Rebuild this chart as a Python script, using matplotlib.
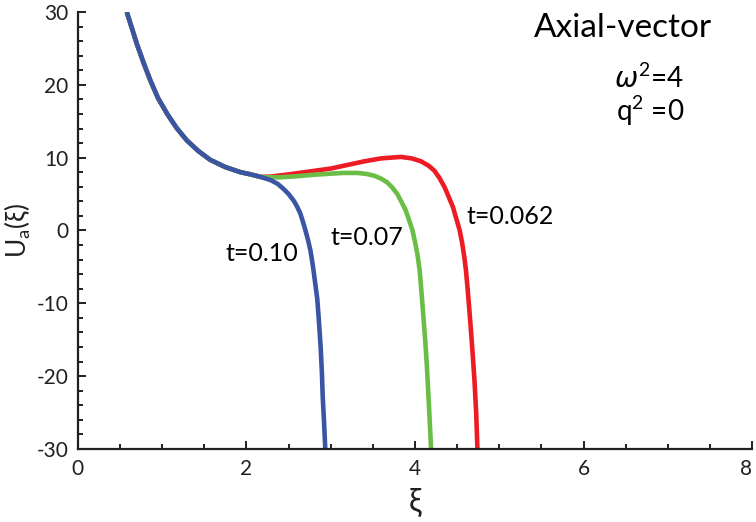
import matplotlib
matplotlib.use('Agg')
import matplotlib.pyplot as plt
from matplotlib.ticker import MultipleLocator

plt.rcParams['font.family'] = ['Lato', 'DejaVu Sans']
plt.rcParams['mathtext.fontset'] = 'custom'
plt.rcParams['mathtext.rm'] = 'Lato'
plt.rcParams['mathtext.it'] = 'DejaVu Sans:italic'
plt.rcParams['axes.unicode_minus'] = False

# curves (xi, U_a)
shared_x = [0.58, 0.64, 0.70, 0.78, 0.86, 0.95, 1.06, 1.17, 1.29, 1.43, 1.57, 1.75, 1.93, 2.05, 2.17]
shared_y = [30.0, 27.8, 25.6, 23.0, 20.6, 18.2, 16.0, 14.1, 12.4, 10.9, 9.7, 8.7, 8.0, 7.7, 7.35]

blue_x = shared_x + [2.29, 2.37, 2.44, 2.50, 2.56, 2.60, 2.64, 2.67, 2.70, 2.73, 2.76, 2.79, 2.815,
                     2.84, 2.86, 2.88, 2.895, 2.905, 2.92, 2.935]
blue_y = shared_y + [6.9, 6.4, 5.7, 5.0, 4.1, 3.3, 2.3, 1.2, 0.0, -1.3, -2.8, -5.0, -7.2,
                     -9.4, -12.5, -16.0, -19.5, -22.9, -26.2, -30.0]

green_x = shared_x + [2.29, 2.40, 2.60, 2.80, 3.00, 3.15, 3.32, 3.43, 3.52, 3.60, 3.67, 3.73, 3.79,
                      3.84, 3.89, 3.93, 3.97, 4.00, 4.03, 4.055, 4.08, 4.10, 4.12, 4.14, 4.155,
                      4.17, 4.19]
green_y = shared_y + [7.3, 7.3, 7.45, 7.65, 7.8, 7.9, 7.9, 7.75, 7.5, 7.1, 6.6, 5.9, 5.0,
                      3.9, 2.75, 1.4, 0.0, -1.6, -3.4, -5.5, -9.0, -12.0, -15.0, -18.5, -21.8,
                      -25.2, -30.0]

red_x = shared_x + [2.29, 2.50, 2.75, 3.00, 3.20, 3.40, 3.60, 3.83, 3.96, 4.07, 4.16, 4.23, 4.29,
                    4.35, 4.40, 4.45, 4.49, 4.53, 4.56, 4.585, 4.605, 4.625, 4.645, 4.665, 4.685,
                    4.705, 4.725, 4.74]
red_y = shared_y + [7.4, 7.7, 8.1, 8.5, 9.0, 9.5, 9.9, 10.1, 9.9, 9.5, 8.9, 8.2, 7.2,
                    5.95, 4.6, 3.2, 1.6, 0.0, -1.8, -3.7, -5.6, -8.2, -11.0, -14.0, -17.2,
                    -20.6, -25.0, -30.0]

x_ticks = [0, 2, 4, 6, 8]
y_ticks = [-30, -20, -10, 0, 10, 20, 30]
labels = ['t=0.10', 't=0.07', 't=0.062']

ink = '#231f20'

fig = plt.figure(figsize=(7.56, 5.22), dpi=100)
ax = fig.add_axes([0.103, 0.140, 0.892, 0.837])

style = dict(lw=3.3, solid_capstyle='butt', solid_joinstyle='round')
ax.plot(red_x, red_y, color='#ed1c24', **style)
ax.plot(green_x, green_y, color='#6abd45', **style)
ax.plot(blue_x, blue_y, color='#3a55a4', **style)

ax.set_xlim(0, 8)
ax.set_ylim(-30, 30)
ax.set_xticks(x_ticks)
ax.set_yticks(y_ticks)
ax.xaxis.set_minor_locator(MultipleLocator(0.5))
ax.yaxis.set_minor_locator(MultipleLocator(2))

for side in ['top', 'right']:
    ax.spines[side].set_visible(False)
for side in ['left', 'bottom']:
    ax.spines[side].set_linewidth(1.6)
    ax.spines[side].set_color(ink)

ax.tick_params(which='both', direction='in', color=ink, width=1.4, labelsize=15, labelcolor=ink)
ax.tick_params(which='major', length=6, pad=7)
ax.tick_params(which='minor', length=3.5)

# last x label sits at the figure edge, keep it inside
ax.get_xticklabels()[-1].set_horizontalalignment('right')

ax.set_xlabel('ξ', fontsize=23, color=ink, labelpad=7)
ax.set_ylabel(r'U$_{\mathregular{a}}$(ξ)', fontsize=19, color=ink, labelpad=2)

ax.text(2.61, -3.2, labels[0], fontsize=18, color='black', ha='right', va='center')
ax.text(3.86, -1.0, labels[1], fontsize=18, color='black', ha='right', va='center')
ax.text(4.61, 1.9, labels[2], fontsize=18, color='black', ha='left', va='center')

ax.text(7.52, 26.5, 'Axial-vector', fontsize=24, color='black', ha='right', va='baseline')
ax.text(7.19, 19.6, r'$\omega^{\mathregular{2}}$=4', fontsize=20, color='black', ha='right', va='baseline')
ax.text(7.19, 15.1, r'q$^{\mathregular{2}}$ =0', fontsize=20, color='black', ha='right', va='baseline')

fig.savefig('out.png', dpi=100)
